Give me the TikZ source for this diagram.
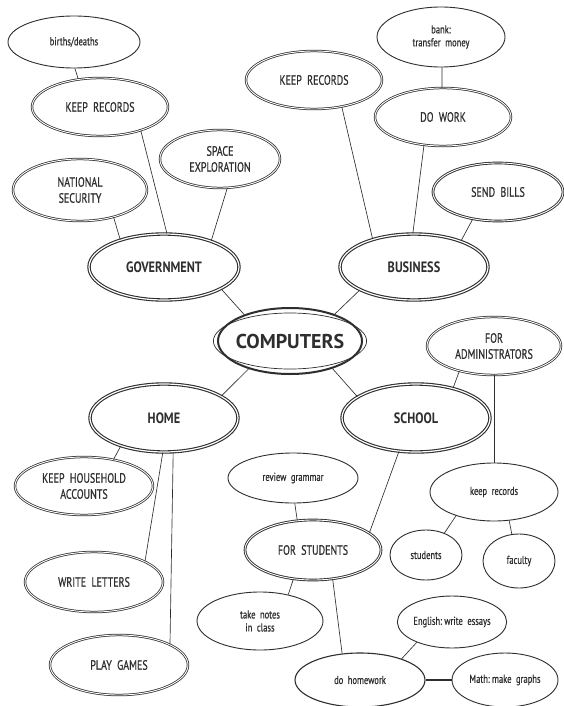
\documentclass[tikz,border=0pt]{standalone}
\usepackage{fontspec}
\setmainfont{PT Sans}
\newfontfamily\cond{PT Sans}[FakeStretch=0.74,FakeBold=0.6]
\newfontfamily\condb{PT Sans Bold}[FakeStretch=0.82]
\newfontfamily\wide{PT Sans Bold}
\usetikzlibrary{shapes.geometric}
\definecolor{ink}{HTML}{2E2E2E}
\tikzset{
  base/.style={ellipse, inner sep=0pt, align=center, text=ink, draw=ink},
  thin/.style={base, line width=0.9pt, font=\cond\fontsize{11.5}{13}\selectfont},
  dbl/.style={base, double, double distance=0.9pt, line width=0.75pt, font=\cond\fontsize{13.5}{16}\selectfont},
  mainc/.style={base, double, double distance=1.2pt, line width=1.1pt, font=\condb\fontsize{15}{17}\selectfont},
  link/.style={draw=ink, line width=0.65pt},
  sz/.style 2 args={minimum width=#1pt, minimum height=#2pt}
}
\begin{document}
\begin{tikzpicture}[x=1pt,y=-1pt]
\useasboundingbox[fill=white] (0,0) rectangle (563,706);
% centre
\node[base, line width=2pt, sz={144}{66}] (comp) at (290,341) {};
\node[base, line width=0.7pt, sz={134}{56}, font=\wide\fontsize{20}{22}\selectfont] (compin) at (290,341) {COMPUTERS};
% main categories
\node[mainc, sz={150}{66}] (gov) at (164,267) {GOVERNMENT};
\node[mainc, sz={148}{66}] (bus) at (414,267) {BUSINESS};
\node[mainc, sz={148}{68}] (home) at (164,418) {HOME};
\node[mainc, sz={148}{68}] (sch) at (416,418) {SCHOOL};
% government
\node[thin, sz={132}{52}] (birth) at (74,42) {births/deaths};
\node[dbl, sz={136}{58}] (krg) at (100,107) {KEEP\ \ RECORDS};
\node[dbl, sz={120}{58}] (space) at (220,159) {SPACE\\EXPLORATION};
\node[dbl, sz={134}{62}] (nat) at (80,190) {NATIONAL\\SECURITY};
% business
\node[thin, sz={128}{60}] (bank) at (441,37) {bank:\\transfer\ \ money};
\node[dbl, sz={136}{58}] (krb) at (314,80) {KEEP\ \ RECORDS};
\node[dbl, sz={136}{58}] (work) at (443,117) {DO\ \ WORK};
\node[dbl, line width=0.9pt, sz={130}{58}] (bills) at (498,192) {SEND\ \ BILLS};
% home
\node[dbl, sz={138}{58}] (hh) at (84,486) {KEEP\ \ HOUSEHOLD\\ACCOUNTS};
\node[dbl, sz={138}{60}] (let) at (94,582) {WRITE\ \ LETTERS};
\node[dbl, sz={138}{60}] (play) at (119,665) {PLAY\ \ GAMES};
% school
\node[dbl, sz={134}{58}] (adm) at (494,346) {FOR\\ADMINISTRATORS};
\node[thin, sz={128}{58}] (krs) at (494,492) {keep\ \ records};
\node[thin, sz={72}{50}] (stu) at (426,555) {students};
\node[thin, sz={72}{54}] (fac) at (519,561) {faculty};
\node[thin, sz={130}{50}] (gram) at (293,478) {review\ \ grammar};
\node[dbl, line width=0.9pt, sz={136}{60}] (fs) at (313,550) {FOR\ \ STUDENTS};
\node[thin, line width=1.1pt, sz={130}{54}] (hw) at (360,680) {do\ \ homework};
\node[thin, sz={126}{58}] (notes) at (260,621) {take\ \ notes\\in\ \ class};
\node[thin, sz={102}{52}] (eng) at (452,622) {English:\ write\ \ essays};
\node[thin, sz={106}{54}] (math) at (505,680) {Math:\ make\ \ graphs};
% connectors
\draw[link] (birth.-88) -- (krg.128);
\draw[link] (krg.-30) -- (gov.85);
\draw[link] (nat.-39) -- (gov.148);
\draw[link] (space.-76) -- (gov.29);
\draw[link] (gov.-21) -- (comp.150);
\draw[link] (krb.-44) -- (bus.146);
\draw[link] (work.-124) -- (bus.92);
\draw[link] (bank.-88) -- (work.92);
\draw[link] (bills.-133) -- (bus.29);
\draw[link] (bus.-157) -- (comp.31);
\draw[link] (comp.-146) -- (home.21);
\draw[link] (comp.-33) -- (sch.160);
\draw[link] (sch.39) -- (adm.-144);
\draw[link] (adm.-90) -- (krs.90);
\draw[link] (sch.-117) -- (fs.17);
\draw[link] (gram.-86) -- (fs.118);
\draw[link] (fs.-124) -- (notes.43);
\draw[link] (fs.-56) -- (hw.124);
\draw[link] (krs.-148) -- (stu.50);
\draw[link] (krs.-62) -- (fac.105);
\draw[link] (hw.27) -- (eng.-150);
\draw[link, line width=1.8pt] (hw.0) -- (math.180);
\draw[link] (home.-147) -- (hh.42);
\draw[link] (home.-92) -- (let.22);
\draw[link] (home.-75) -- (play.22);
\end{tikzpicture}
\end{document}
